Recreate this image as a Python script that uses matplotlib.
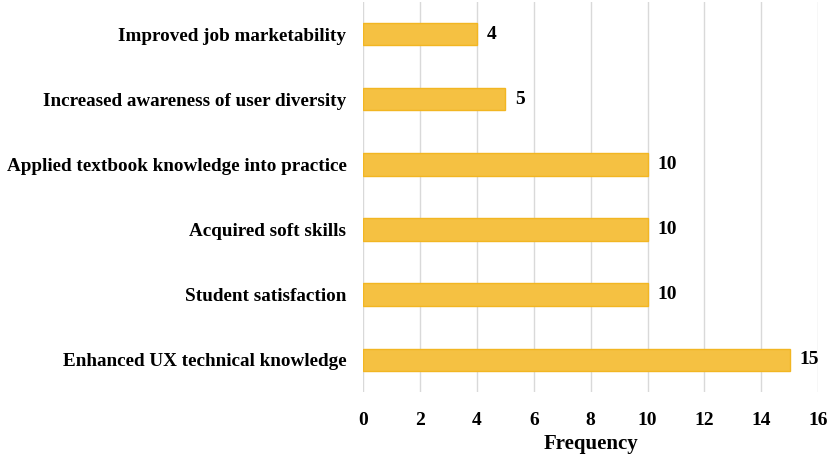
import matplotlib
matplotlib.use("Agg")
import matplotlib.pyplot as plt

# categories from top to bottom as in the chart
categories = [
    "Improved job marketability",
    "Increased awareness of user diversity",
    "Applied textbook knowledge into practice",
    "Acquired soft skills",
    "Student satisfaction",
    "Enhanced UX technical knowledge",
]
frequency = [4, 5, 10, 10, 10, 15]
x_ticks = [0, 2, 4, 6, 8, 10, 12, 14, 16]

plt.rcParams['font.family'] = ['Liberation Serif', 'DejaVu Serif']
plt.rcParams['font.weight'] = 'bold'

fig = plt.figure(figsize=(8.29, 4.57), dpi=100)
ax = fig.add_axes([0.438, 0.142, 0.549, 0.854])

ypos = list(range(len(categories)))[::-1]
ax.barh(ypos, frequency, height=0.34, color='#F5C142', edgecolor='#F2B622',
        linewidth=1.0, zorder=3)

for y, v in zip(ypos, frequency):
    ax.text(v + 0.35, y, str(v), va='center', ha='left',
            fontsize=14, fontweight='bold')

ax.set_xlim(0, 16)
ax.set_ylim(-0.5, 5.5)
ax.set_xticks(x_ticks)
ax.set_yticks(ypos)
ax.set_yticklabels(categories, fontsize=13.8, fontweight='bold')
ax.tick_params(axis='x', labelsize=14, length=0, pad=14)
ax.tick_params(axis='y', length=0, pad=12)
ax.xaxis.grid(True, color='#D9D9D9', linewidth=1.0, zorder=0)
ax.set_axisbelow(True)
for s in ax.spines.values():
    s.set_visible(False)

ax.set_xlabel("Frequency", fontsize=15, fontweight='bold', labelpad=4)

fig.savefig("out.png", dpi=100)
